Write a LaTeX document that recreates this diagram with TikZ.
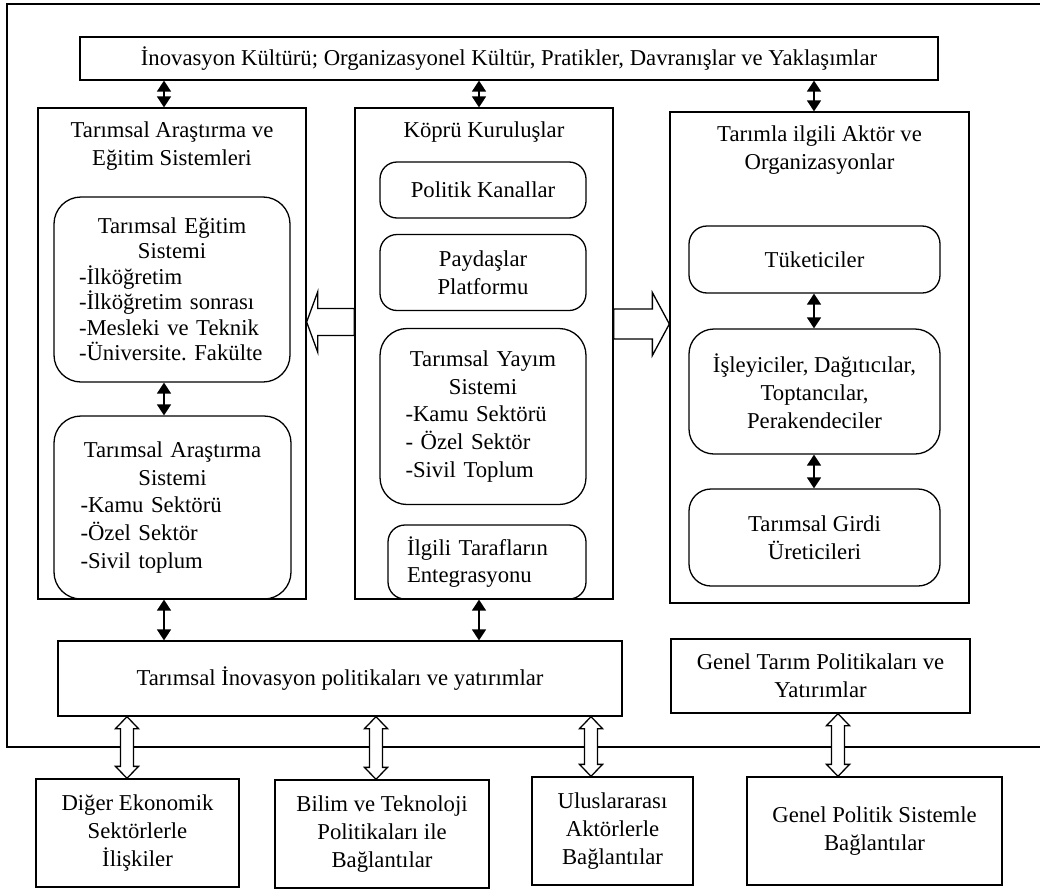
\documentclass[tikz,border=0pt]{standalone}
\usepackage{fontspec}
\setmainfont{Liberation Serif}
\usetikzlibrary{arrows.meta,calc}
\frenchspacing

\tikzset{
  box/.style={draw, line width=1.3pt, inner sep=0pt, align=center},
  rbox/.style={box, rounded corners=22pt},
  twoway/.style={line width=1.8pt, {Triangle[length=11pt,width=14pt]}-{Triangle[length=11pt,width=14pt]}},
  blockarrow/.style={draw, fill=white, line width=1.3pt, line join=miter},
  boxtitle/.style={anchor=north, inner sep=0pt, yshift=-14pt, align=center}
}

% hollow arrows: tail, tip, shaft half width, head half width, head length
\newcommand{\hollowarrow}[5]{%
  \path (#1) coordinate (ha-a) (#2) coordinate (ha-b);
  \path ($(ha-b)!#5!(ha-a)$) coordinate (ha-c);
  \draw[blockarrow] ($(ha-a)!#3!90:(ha-b)$) -- ($(ha-c)!#3!90:(ha-b)$) -- ($(ha-c)!#4!90:(ha-b)$) -- (ha-b)
    -- ($(ha-c)!#4!-90:(ha-b)$) -- ($(ha-c)!#3!-90:(ha-b)$) -- ($(ha-a)!#3!-90:(ha-b)$) -- cycle;
}
\newcommand{\hollowdualarrow}[5]{%
  \path (#1) coordinate (ha-a) (#2) coordinate (ha-b);
  \path ($(ha-a)!#5!(ha-b)$) coordinate (ha-c) ($(ha-b)!#5!(ha-a)$) coordinate (ha-d);
  \draw[blockarrow] (ha-a) -- ($(ha-c)!#4!90:(ha-b)$) -- ($(ha-c)!#3!90:(ha-b)$) -- ($(ha-d)!#3!90:(ha-b)$)
    -- ($(ha-d)!#4!90:(ha-b)$) -- (ha-b) -- ($(ha-d)!#4!-90:(ha-b)$) -- ($(ha-d)!#3!-90:(ha-b)$)
    -- ($(ha-c)!#3!-90:(ha-b)$) -- ($(ha-c)!#4!-90:(ha-b)$) -- cycle;
}

\begin{document}
\begin{tikzpicture}[x=1pt, y=-1pt, font=\fontsize{22.7}{27.8}\selectfont]
  \fill[white] (0,0) rectangle (1040,891);
  \useasboundingbox (0,0) rectangle (1040,891);

  % outer frame, open to the right
  \draw[line width=1.3pt] (1040,4) -- (7,4) -- (7,747) -- (1040,747);

  \node (culture) [box, minimum width=858pt, minimum height=43pt] at (509,58.5)
    {İnovasyon Kültürü; Organizasyonel Kültür, Pratikler, Davranışlar ve Yaklaşımlar};

  % left column
  \node (tae) [box, minimum width=268pt, minimum height=491pt,
    label={[boxtitle]north:Tarımsal Araştırma ve\\Eğitim Sistemleri}] at (172,353.5) {};
  \node (tes) [rbox, rounded corners=27pt, text width=186pt, align=left, minimum width=236pt, minimum height=185pt,
    font=\fontsize{22.7}{25.5}\selectfont] at (172,289.5)
    {{\centering Tarımsal Eğitim\par Sistemi\par}-İlköğretim\par -İlköğretim sonrası\par -Mesleki ve Teknik\par -Üniversite. Fakülte};
  \node (tas) [rbox, rounded corners=27pt, text width=184pt, align=left, minimum width=237pt, minimum height=183pt] at (172.5,507.5)
    {{\centering Tarımsal Araştırma\par Sistemi\par}-Kamu Sektörü\par -Özel Sektör\par -Sivil toplum};

  % middle column
  \node (kk) [box, minimum width=258pt, minimum height=491pt,
    label={[boxtitle]north:Köprü Kuruluşlar}] at (484,353.5) {};
  \node (pk) [rbox, rounded corners=17pt, minimum width=206pt, minimum height=56pt] at (483,190) {Politik Kanallar};
  \node (pp) [rbox, rounded corners=17pt, minimum width=206pt, minimum height=76pt] at (483,272.5) {Paydaşlar\\Platformu};
  \node (tys) [rbox, rounded corners=27pt, text width=155pt, align=left, minimum width=206pt, minimum height=176pt] at (483,416.5)
    {{\centering Tarımsal Yayım\par Sistemi\par}-Kamu Sektörü\par - Özel Sektör\par -Sivil Toplum};
  \node (itE) [rbox, rounded corners=17pt, text width=160pt, align=left, minimum width=198pt, minimum height=74pt] at (487,562)
    {İlgili Tarafların\\Entegrasyonu};

  % right column
  \node (tao) [box, minimum width=299pt, minimum height=491pt,
    label={[boxtitle]north:Tarımla ilgili Aktör ve\\Organizasyonlar}] at (819.5,357.5) {};
  \node (tuk) [rbox, rounded corners=18pt, minimum width=251pt, minimum height=67pt] at (814.5,259.5) {Tüketiciler};
  \node (isl) [rbox, rounded corners=25pt, minimum width=251pt, minimum height=125pt] at (814.5,391.5)
    {İşleyiciler, Dağıtıcılar,\\Toptancılar,\\Perakendeciler};
  \node (tgu) [rbox, rounded corners=22pt, minimum width=251pt, minimum height=97pt] at (814.5,537.5)
    {Tarımsal Girdi\\Üreticileri};

  % policy boxes
  \node (tip) [box, minimum width=564pt, minimum height=75pt] at (340,678.5)
    {Tarımsal İnovasyon politikaları ve yatırımlar};
  \node (gtp) [box, minimum width=299pt, minimum height=74pt] at (820.5,676)
    {Genel Tarım Politikaları ve\\Yatırımlar};

  % outside links
  \node (des) [box, minimum width=203pt, minimum height=108pt] at (137.5,833)
    {Diğer Ekonomik\\Sektörlerle\\İlişkiler};
  \node (btp) [box, minimum width=214pt, minimum height=108pt] at (382,834)
    {Bilim ve Teknoloji\\Politikaları ile\\Bağlantılar};
  \node (uab) [box, minimum width=161pt, minimum height=108pt] at (612.5,831)
    {Uluslararası\\Aktörlerle\\Bağlantılar};
  \node (gps) [box, minimum width=255pt, minimum height=108pt] at (874.5,831)
    {Genel Politik Sistemle\\Bağlantılar};

  % small two-way arrows
  \draw[twoway] (164,0 |- culture.south) -- (164,0 |- tae.north);
  \draw[twoway] (479,0 |- culture.south) -- (479,0 |- kk.north);
  \draw[twoway] (814,0 |- culture.south) -- (814,0 |- tao.north);
  \draw[twoway] (164,0 |- tes.south) -- (164,0 |- tas.north);
  \draw[twoway] (814,0 |- tuk.south) -- (814,0 |- isl.north);
  \draw[twoway] (814,0 |- isl.south) -- (814,0 |- tgu.north);
  \draw[twoway] (164,0 |- tae.south) -- (164,0 |- tip.north);
  \draw[twoway] (479,0 |- kk.south) -- (479,0 |- tip.north);

  % block arrows
  \hollowarrow{kk.west |- 0,322}{tae.east |- 0,322}{13.5pt}{30pt}{11pt}
  \hollowarrow{kk.east |- 0,324}{tao.west |- 0,324}{15pt}{31.5pt}{17pt}
  \hollowdualarrow{127,0 |- tip.south}{127,0 |- des.north}{6.5pt}{11.5pt}{12pt}
  \hollowdualarrow{376,0 |- tip.south}{376,0 |- btp.north}{6.5pt}{11.5pt}{12pt}
  \hollowdualarrow{591,0 |- tip.south}{591,0 |- uab.north}{6.5pt}{11.5pt}{12pt}
  \hollowdualarrow{838,0 |- gtp.south}{838,0 |- gps.north}{6.5pt}{11.5pt}{12pt}
\end{tikzpicture}
\end{document}
